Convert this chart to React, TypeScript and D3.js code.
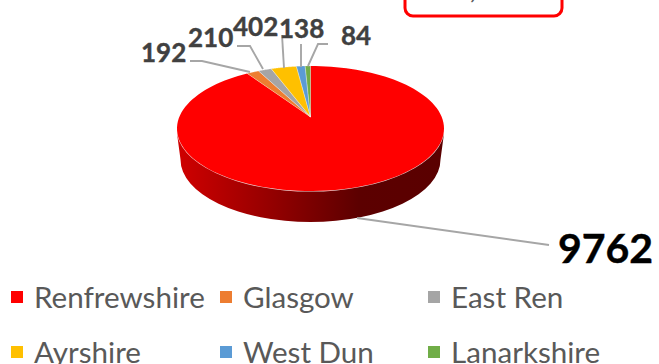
import React from "react";
import * as d3 from "d3";

const categories = ["Renfrewshire", "Glasgow", "East Ren", "Ayrshire", "West Dun", "Lanarkshire"];
const values = [9762, 192, 210, 402, 138, 84];
const colors = ["#ff0000", "#ed7d31", "#a5a5a5", "#ffc000", "#5b9bd5", "#70ad47"];
const boxLabel = ",";

const W = 659, H = 364;
const cx = 310.5, cy = 128.5, rx = 133.5, ry = 62.5;
const ax = 310.5, ay = 117;
const depth = 31, rxLow = 130;
const font = "Lato, 'Open Sans', sans-serif";

function rim(theta: number): [number, number] {
  const dx = Math.sin(theta), dy = -Math.cos(theta);
  const oy = (ay - cy) / ry;
  const b = oy * dy;
  const c = oy * oy - 1;
  const s = -b + Math.sqrt(b * b - c);
  return [ax + s * dx * rx, ay + s * dy * ry];
}

const leaders: [number, number][][] = [
  [[357, 218], [549, 245]],
  [[190, 61], [202, 61], [250, 72]],
  [[237, 46], [250, 46], [263, 69]],
  [[282, 35], [284, 68]],
  [[301, 44], [301, 67]],
  [[328, 44], [318, 44], [308, 66]],
];
const labelPos: [number, number, number, string][] = [
  [558, 263, 41, "#000"],
  [141, 62, 26, "#404040"],
  [188, 47, 26, "#404040"],
  [233, 36, 26, "#404040"],
  [279, 38, 26, "#404040"],
  [341, 45, 26, "#404040"],
];
const legendX = [11, 220, 428];
const legendY = [297, 352];

export default function App() {
  const arcs = d3.pie<number>().sort(null)(values);
  const line = d3.line();
  const slicePath = (a0: number, a1: number) => {
    const pts: [number, number][] = d3.range(0, 121).map(i => rim(a0 + ((a1 - a0) * i) / 120));
    return line([[ax, ay], ...pts]) + "Z";
  };
  const side =
    `M${cx - rx},${cy + 5} L${cx - rxLow},${cy + depth} ` +
    `A${rxLow},${ry} 0 0 0 ${cx + rxLow},${cy + depth} L${cx + rx},${cy + 5} Z`;
  return (
    <svg width={W} height={H} viewBox={`0 0 ${W} ${H}`} style={{ position: "absolute", left: 0, top: 0, background: "#fff" }}>
      <defs>
        <linearGradient id="sideGrad" x1="0" x2="1" y1="0" y2="0">
          <stop offset="0" stopColor="#d00000" />
          <stop offset="0.35" stopColor="#950000" />
          <stop offset="0.68" stopColor="#5c0000" />
          <stop offset="1" stopColor="#5a0000" />
        </linearGradient>
      </defs>
      <rect x={405} y={-30} width={157} height={46} rx={8} fill="#fff" stroke="#ff0000" strokeWidth={3} />
      <text x={470} y={-1} fontFamily={font} fontSize={24} fontWeight={700} fill="#595959">{boxLabel}</text>
      <path d={side} fill="url(#sideGrad)" />
      <ellipse cx={cx} cy={cy} rx={rx + 0.6} ry={ry + 0.6} fill="#fff" opacity={0.85} />
      {arcs.map((a, i) => (
        <path key={categories[i]} d={slicePath(a.startAngle, a.endAngle)} fill={colors[i]} stroke={i === 0 ? "none" : "#fff"} strokeOpacity={0.6} strokeWidth={0.5} />
      ))}
      {leaders.map((l, i) => (
        <path key={i} d={line(l) as string} fill="none" stroke="#a6a6a6" strokeWidth={1.9} />
      ))}
      {values.map((v, i) => (
        <text key={i} x={labelPos[i][0]} y={labelPos[i][1]} fontFamily={font} fontWeight={700} fontSize={labelPos[i][2]} fill={labelPos[i][3]} stroke={labelPos[i][3]} strokeWidth={0.4}>{v}</text>
      ))}
      {categories.map((c, i) => {
        const x = legendX[i % 3], y = legendY[Math.floor(i / 3)];
        return (
          <g key={c}>
            <rect x={x} y={y - 6} width={12} height={12} fill={colors[i]} />
            <text x={x + 23} y={y + 10.5} fontFamily={font} fontSize={29.6} fill="#595959">{c}</text>
          </g>
        );
      })}
    </svg>
  );
}
